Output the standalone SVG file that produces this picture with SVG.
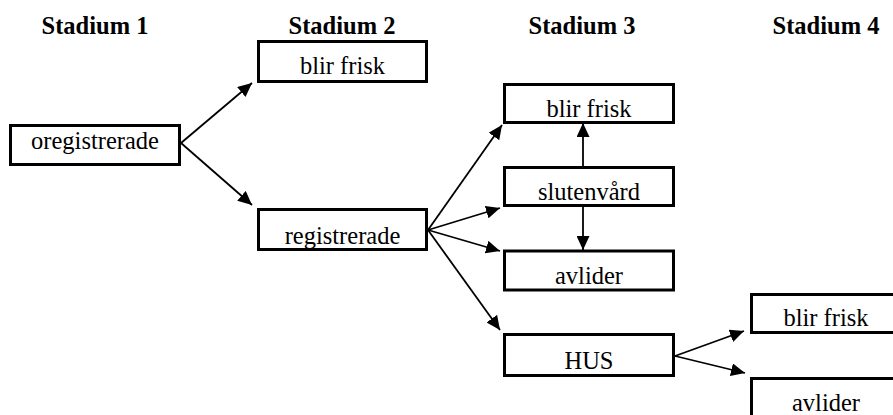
<svg xmlns="http://www.w3.org/2000/svg" width="893" height="415" viewBox="0 0 893 415">
<style>
.box{fill:#fff;stroke:#000;stroke-width:3}
text{font-family:'Liberation Serif','Tinos','Times New Roman','DejaVu Serif',serif;font-size:24.5px;text-anchor:middle;fill:#000}
.h{font-weight:bold}
.c{stroke:#000;stroke-width:1.8;fill:none;marker-end:url(#ah)}
</style>
<defs>
<marker id="ah" markerUnits="userSpaceOnUse" markerWidth="15" markerHeight="13" refX="14" refY="6.5" orient="auto">
<path d="M0,0 L14,6.5 L0,13 z" fill="#000"/>
</marker>
</defs>
<g id="headers">
<text class="h" x="95" y="34">Stadium 1</text>
<text class="h" x="342" y="34">Stadium 2</text>
<text class="h" x="582" y="34">Stadium 3</text>
<text class="h" x="826" y="34">Stadium 4</text>
</g>
<g id="connectors">
<line class="c" x1="181" y1="143" x2="252" y2="83"/>
<line class="c" x1="181" y1="143" x2="252" y2="205"/>
<line class="c" x1="428" y1="230" x2="502" y2="125"/>
<line class="c" x1="428" y1="230" x2="500" y2="208"/>
<line class="c" x1="428" y1="230" x2="500" y2="251"/>
<line class="c" x1="428" y1="230" x2="500" y2="330"/>
<line class="c" x1="583" y1="166" x2="583" y2="123"/>
<line class="c" x1="583" y1="207" x2="583" y2="250"/>
<line class="c" x1="675" y1="356" x2="744" y2="331"/>
<line class="c" x1="675" y1="356" x2="745" y2="373"/>
</g>
<g id="n-oregistrerade">
<rect class="box" x="10.5" y="125.5" width="169" height="39"/>
<text x="95" y="148.5">oregistrerade</text>
</g>
<g id="n-s2-blirfrisk">
<rect class="box" x="258.5" y="41.5" width="168" height="40"/>
<text x="342.5" y="74">blir frisk</text>
</g>
<g id="n-registrerade">
<rect class="box" x="258.5" y="209.5" width="168" height="40"/>
<text x="342.5" y="243.5">registrerade</text>
</g>
<g id="n-s3-blirfrisk">
<rect class="box" x="504.5" y="84.5" width="169" height="38"/>
<text x="589" y="116.7">blir frisk</text>
</g>
<g id="n-slutenvard">
<rect class="box" x="504.5" y="167.5" width="169" height="38"/>
<text x="589" y="200">slutenvård</text>
</g>
<g id="n-s3-avlider">
<rect class="box" x="504.5" y="251" width="169" height="39"/>
<text x="589" y="284">avlider</text>
</g>
<g id="n-hus">
<rect class="box" x="504.5" y="334.5" width="169" height="41"/>
<text x="589" y="369">HUS</text>
</g>
<g id="n-s4-blirfrisk">
<rect class="box" x="751.5" y="294.5" width="169" height="38"/>
<text x="826" y="326">blir frisk</text>
</g>
<g id="n-s4-avlider">
<rect class="box" x="751.5" y="378.5" width="169" height="40"/>
<text x="826" y="411">avlider</text>
</g>
</svg>
